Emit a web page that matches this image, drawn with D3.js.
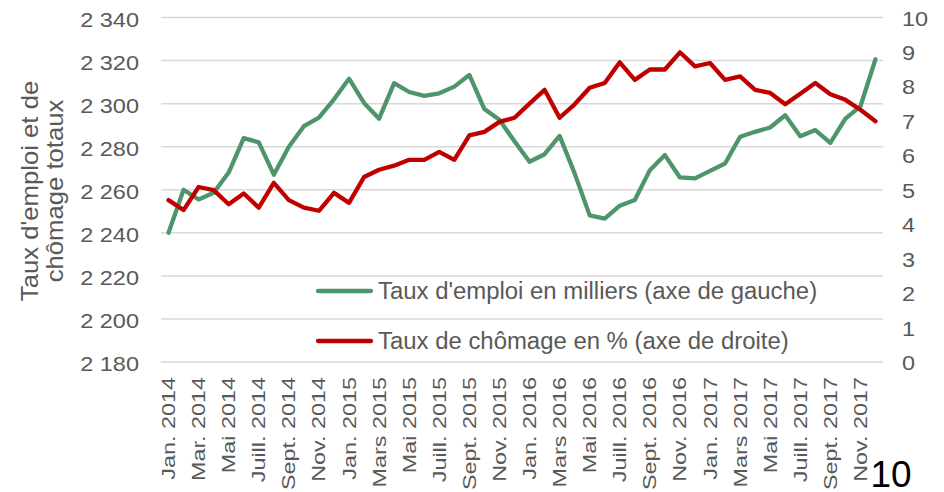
<!DOCTYPE html>
<html>
<head>
<meta charset="utf-8">
<style>
  body { margin: 0; background: #fff; }
  svg text { font-family: "Liberation Sans", Arial, sans-serif; fill: #595959; }
</style>
</head>
<body>
<svg width="944" height="492"></svg>
<script src="https://d3js.org/d3.v7.min.js"></script>
<script>
// months Jan 2014 .. Dec 2017
var months = [
  "Jan. 2014","Févr. 2014","Mar. 2014","Avr. 2014","Mai 2014","Juin 2014","Juill. 2014","Août 2014","Sept. 2014","Oct. 2014","Nov. 2014","Déc. 2014",
  "Jan. 2015","Févr. 2015","Mars 2015","Avr. 2015","Mai 2015","Juin 2015","Juill. 2015","Août 2015","Sept. 2015","Oct. 2015","Nov. 2015","Déc. 2015",
  "Jan. 2016","Févr. 2016","Mars 2016","Avr. 2016","Mai 2016","Juin 2016","Juill. 2016","Août 2016","Sept. 2016","Oct. 2016","Nov. 2016","Déc. 2016",
  "Jan. 2017","Févr. 2017","Mars 2017","Avr. 2017","Mai 2017","Juin 2017","Juill. 2017","Août 2017","Sept. 2017","Oct. 2017","Nov. 2017","Déc. 2017"
];

// employment, thousands (left axis)
var emploi = [
  2240, 2260, 2255.5, 2258.6, 2268, 2284, 2282, 2267, 2280, 2289.5, 2293.5, 2302,
  2311.6, 2300.3, 2293, 2309.5, 2305.4, 2303.6, 2304.8, 2307.9, 2313.3, 2297.5, 2292.5, 2282.5,
  2273, 2276.5, 2285, 2267.6, 2248.1, 2246.6, 2252.6, 2255.2, 2269.1, 2276.1, 2265.7, 2265.3,
  2268.8, 2272.2, 2284.6, 2286.9, 2288.9, 2294.6, 2284.9, 2287.7, 2281.8, 2293, 2298.7, 2320.6
];

// unemployment rate, % (right axis)
var chomage = [
  4.70, 4.41, 5.08, 4.99, 4.58, 4.89, 4.48, 5.20, 4.70, 4.48, 4.39, 4.91,
  4.62, 5.37, 5.58, 5.70, 5.87, 5.87, 6.10, 5.87, 6.58, 6.68, 6.97, 7.09,
  7.50, 7.90, 7.09, 7.48, 7.96, 8.10, 8.70, 8.19, 8.49, 8.49, 8.99, 8.58,
  8.68, 8.19, 8.29, 7.90, 7.81, 7.48, 7.79, 8.10, 7.77, 7.61, 7.32, 6.99
];

var leftTicks = [2180, 2200, 2220, 2240, 2260, 2280, 2300, 2320, 2340];
var rightTicks = [0, 1, 2, 3, 4, 5, 6, 7, 8, 9, 10];
var legendLabels = ["Taux d'emploi en milliers (axe de gauche)", "Taux de chômage en % (axe de droite)"];
var colors = ["#4f956b", "#c00000"];

var svg = d3.select("svg");
var plot = { left: 161, right: 883, top: 17.5, bottom: 362 };

var x = d3.scalePoint().domain(months).range([plot.left, plot.right]).padding(0.5);
var yL = d3.scaleLinear().domain([2180, 2340]).range([plot.bottom, plot.top]);
var yR = d3.scaleLinear().domain([0, 10]).range([plot.bottom, plot.top]);

var fr = d3.formatLocale({ decimal: ",", thousands: " ", grouping: [3], currency: ["", " €"] });
var fmt = fr.format(",");

// gridlines
svg.append("g")
  .selectAll("line")
  .data(leftTicks)
  .enter().append("line")
  .attr("x1", plot.left).attr("x2", plot.right)
  .attr("y1", d => yL(d)).attr("y2", d => yL(d))
  .style("stroke", "#d9d9d9")
  .style("stroke-width", 1.5);

// left tick labels
svg.append("g")
  .selectAll("text")
  .data(leftTicks)
  .enter().append("text")
  .attr("transform", d => "translate(139," + (yL(d) + 9) + ")scale(1.12,1)")
  .attr("text-anchor", "end")
  .style("font-size", "21px")
  .text(d => fmt(d));

// right tick labels
svg.append("g")
  .selectAll("text")
  .data(rightTicks)
  .enter().append("text")
  .attr("transform", d => "translate(902," + (yR(d) + 8) + ")scale(1.12,1)")
  .style("font-size", "21px")
  .text(d => d);

// x labels, every second month
svg.append("g")
  .selectAll("text")
  .data(months.filter((d, i) => i % 2 === 0))
  .enter().append("text")
  .attr("transform", d => "translate(" + (x(d) + 6.5) + ",377)rotate(-90)scale(1.3,1)")
  .attr("text-anchor", "end")
  .style("font-size", "18px")
  .text(d => d);

// y title
var title = svg.append("text")
  .attr("transform", "translate(0,191)rotate(-90)scale(1.07,1)")
  .attr("text-anchor", "middle")
  .style("font-size", "24px");
title.append("tspan").attr("x", 0).attr("y", 38).text("Taux d'emploi et de");
title.append("tspan").attr("x", 0).attr("y", 63).text("chômage totaux");

// lines
var lineL = d3.line().x((d, i) => x(months[i])).y(d => yL(d));
var lineR = d3.line().x((d, i) => x(months[i])).y(d => yR(d));

svg.append("path").datum(emploi)
  .attr("d", lineL)
  .style("fill", "none").style("stroke", colors[0]).style("stroke-width", 4.3)
  .style("stroke-linejoin", "round").style("stroke-linecap", "round");

svg.append("path").datum(chomage)
  .attr("d", lineR)
  .style("fill", "none").style("stroke", colors[1]).style("stroke-width", 4.3)
  .style("stroke-linejoin", "round").style("stroke-linecap", "round");

// legend
var leg = svg.append("g").selectAll("g")
  .data(legendLabels)
  .enter().append("g")
  .attr("transform", (d, i) => "translate(318," + (291 + i * 50) + ")");
leg.append("line")
  .attr("x1", 0).attr("x2", 53)
  .style("stroke", (d, i) => colors[i]).style("stroke-width", 4.3)
  .style("stroke-linecap", "round");
leg.append("text")
  .attr("transform", "translate(60,8)scale(1.04,1)")
  .style("font-size", "23px")
  .text(d => d);

// page number
svg.append("text")
  .attr("x", 891).attr("y", 487)
  .attr("text-anchor", "middle")
  .style("font-size", "37px")
  .style("fill", "#000")
  .text("10");
</script>
</body>
</html>
